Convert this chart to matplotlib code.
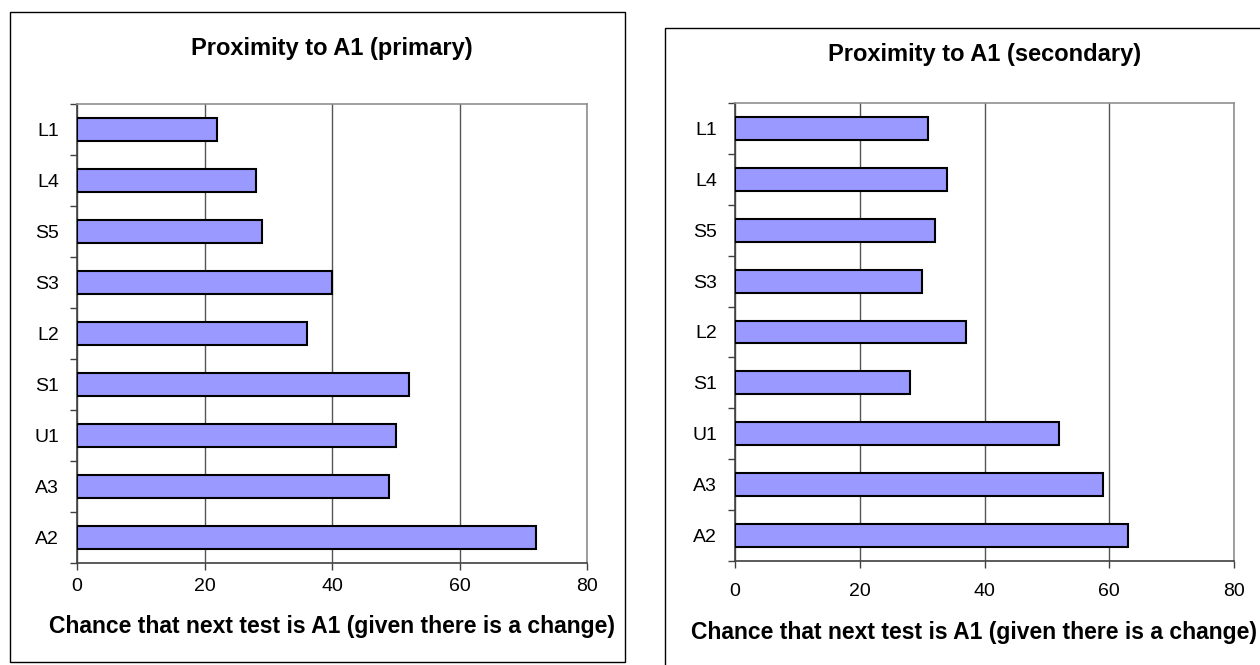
import numpy as np
import matplotlib.pyplot as plt
from matplotlib.patches import Rectangle

plt.rcParams['font.family'] = ['Liberation Sans', 'DejaVu Sans']

categories = ["L1", "L4", "S5", "S3", "L2", "S1", "U1", "A3", "A2"]
primary = [22, 28, 29, 40, 36, 52, 50, 49, 72]
secondary = [31, 34, 32, 30, 37, 28, 52, 59, 63]
xticks = [0, 20, 40, 60, 80]

titles = ["Proximity to A1 (primary)", "Proximity to A1 (secondary)"]
xlabel = "Chance that next test is A1 (given there is a change)"

W, H = 1260, 665
fig = plt.figure(figsize=(W / 100, H / 100), dpi=100)

# panel frames (pixel boxes)
for (x0, y0, x1, y1) in [(10, 12, 625, 662), (665, 28, 1265, 670)]:
    fig.patches.append(Rectangle((x0 / W, 1 - y1 / H), (x1 - x0) / W, (y1 - y0) / H,
                                 transform=fig.transFigure, fill=False,
                                 edgecolor="black", lw=1.0))

# axes boxes in pixels: left, top, right, bottom
boxes = [(77, 104, 587, 563), (735, 103, 1234, 561)]
title_y = [49, 54]
label_y = [627, 632]
label_x = [332, 974]
xpad = [6, 11]

for i, (vals, box) in enumerate(zip([primary, secondary], boxes)):
    l, t, r, b = box
    ax = fig.add_axes([l / W, 1 - b / H, (r - l) / W, (b - t) / H])
    y = np.arange(len(categories))
    ax.barh(y, vals, height=0.45, color="#9999FF", edgecolor="black", lw=1.5, zorder=3)
    ax.set_xlim(0, 80)
    ax.set_ylim(len(categories) - 0.5, -0.5)
    ax.set_xticks(xticks)
    ax.set_xticklabels([str(v) for v in xticks], fontsize=14)
    ax.tick_params(axis="x", length=5, width=1, pad=xpad[i], color="#404040")
    # category boundaries as major ticks, labels on minor ticks
    ax.set_yticks(np.arange(-0.5, len(categories), 1.0))
    ax.set_yticklabels([])
    ax.set_yticks(y, minor=True)
    ax.set_yticklabels(categories, minor=True, fontsize=14)
    ax.tick_params(axis="y", which="major", length=5, width=1, color="#404040")
    ax.tick_params(axis="y", which="minor", length=0, pad=13)
    ax.grid(axis="x", color="#555555", lw=1, zorder=0)
    for s in ["top", "right"]:
        ax.spines[s].set_color("#909090")
        ax.spines[s].set_linewidth(1.2)
    for s in ["left", "bottom"]:
        ax.spines[s].set_color("#404040")
        ax.spines[s].set_linewidth(1.2)
    ax.text(0.5, (b - title_y[i]) / (b - t), titles[i], transform=ax.transAxes,
            ha="center", va="center", fontsize=17, fontweight="bold")
    ax.text((label_x[i] - l) / (r - l), (b - label_y[i]) / (b - t), xlabel,
            transform=ax.transAxes, ha="center", va="center", fontsize=16.5,
            fontweight="bold", clip_on=False)

fig.savefig("out.png", dpi=100)
